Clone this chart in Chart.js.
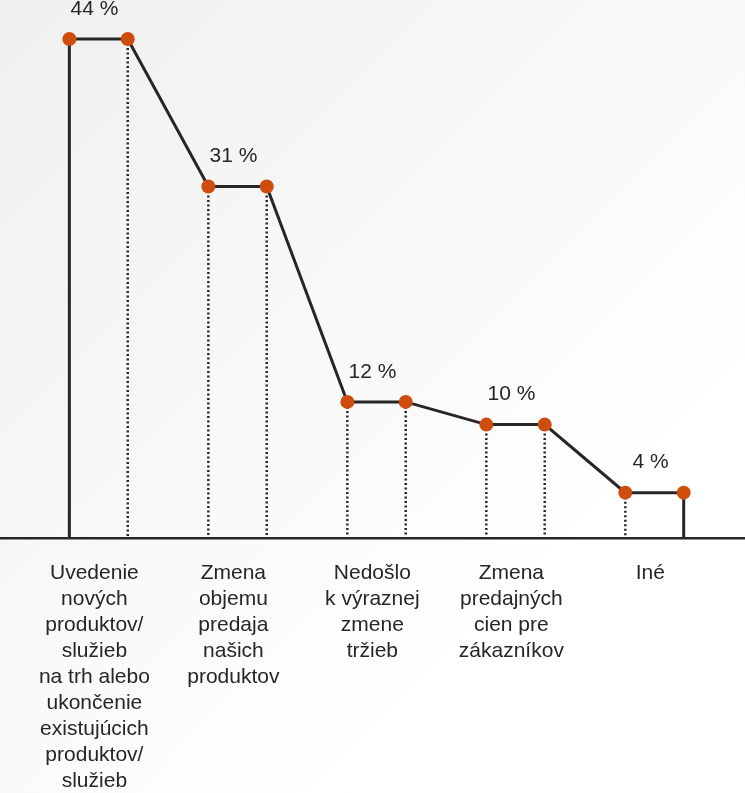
<!DOCTYPE html>
<html>
<head>
<meta charset="utf-8">
<script src="https://cdn.jsdelivr.net/npm/chart.js@4/dist/chart.umd.min.js"></script>
<style>
  html, body { margin: 0; padding: 0; }
  body {
    width: 745px; height: 793px; overflow: hidden;
    background: linear-gradient(135deg, #efefef 0%, #f8f8f8 40%, #ffffff 75%);
  }
  #wrap { position: relative; width: 745px; height: 793px; }
</style>
</head>
<body>
<div id="wrap"><canvas id="chart"></canvas></div>
<script>
// data
const categories = [
    ["Uvedenie", "nových", "produktov/", "služieb", "na trh alebo", "ukončenie", "existujúcich", "produktov/", "služieb"],
    ["Zmena", "objemu", "predaja", "našich", "produktov"],
    ["Nedošlo", "k výraznej", "zmene", "tržieb"],
    ["Zmena", "predajných", "cien pre", "zákazníkov"],
    ["Iné"]
];
const values = [44, 31, 12, 10, 4];
const valueLabels = ["44 %", "31 %", "12 %", "10 %", "4 %"];

const HALF = 0.21;      // half width of each step
const LINE = "#262626";
const DOT = "#cf4d0c";
const FONT = "'Liberation Sans', Arial, sans-serif";

// step line: solid drop at both ends
const stepPoints = [{ x: -HALF, y: 0 }];
values.forEach((v, i) => {
    stepPoints.push({ x: i - HALF, y: v });
    stepPoints.push({ x: i + HALF, y: v });
});
stepPoints.push({ x: values.length - 1 + HALF, y: 0 });

// dotted drops for the inner points
const dropPoints = [];
stepPoints.forEach((p, i) => {
    if (i < 2 || i > stepPoints.length - 3) return;
    dropPoints.push({ x: p.x, y: p.y }, { x: p.x, y: 0 }, { x: p.x, y: null });
});

const valueLabelPlugin = {
    id: "valueLabels",
    afterDatasetsDraw(chart) {
        const { ctx, scales } = chart;
        ctx.save();
        ctx.font = "21px " + FONT;
        ctx.fillStyle = LINE;
        ctx.textAlign = "center";
        ctx.textBaseline = "middle";
        values.forEach((v, i) => {
            const x = scales.x.getPixelForValue(i) - 4;
            const y = scales.y.getPixelForValue(v) - 30;
            ctx.fillText(valueLabels[i], x, y);
        });
        ctx.restore();
    }
};

new Chart(document.getElementById("chart"), {
    type: "line",
    data: {
        datasets: [
            {
                data: stepPoints,
                borderColor: LINE,
                borderWidth: 3,
                tension: 0,
                pointRadius: ctx => (ctx.raw && ctx.raw.y === 0 ? 0 : 7),
                pointBackgroundColor: DOT,
                pointBorderWidth: 0,
                borderJoinStyle: "miter"
            },
            {
                data: dropPoints,
                borderColor: LINE,
                borderWidth: 2.5,
                borderDash: [2, 2.5],
                pointRadius: 0,
                spanGaps: false
            }
        ]
    },
    options: {
        responsive: true,
        maintainAspectRatio: false,
        animation: false,
        layout: { padding: 0 },
        plugins: { legend: { display: false }, tooltip: { enabled: false } },
        scales: {
            x: {
                type: "linear",
                min: -0.709,
                max: 4.651,
                grid: { display: false, drawTicks: false },
                border: { display: true, color: LINE, width: 2.5 },
                afterBuildTicks(scale) {
                    scale.ticks = categories.map((c, i) => ({ value: i - 0.03 }));
                },
                afterFit(scale) { scale.height = 255; },
                ticks: {
                    autoSkip: false,
                    maxRotation: 0,
                    padding: 22,
                    color: LINE,
                    font: { family: FONT, size: 21, lineHeight: 26 / 21 },
                    callback: (value, index) => categories[index]
                }
            },
            y: {
                display: false,
                min: 0,
                max: 47.44
            }
        }
    },
    plugins: [valueLabelPlugin]
});
</script>
</body>
</html>
